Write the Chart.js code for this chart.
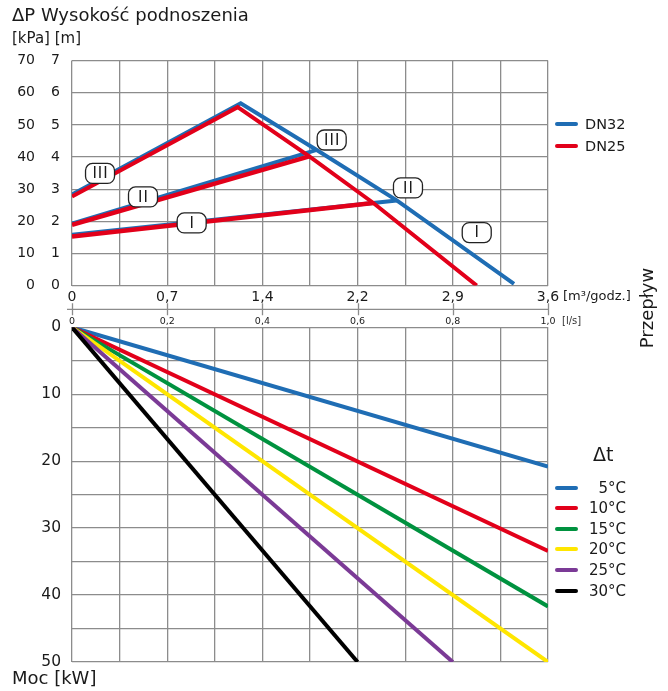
<!DOCTYPE html>
<html lang="pl">
<head>
<meta charset="utf-8">
<title>Wysokość podnoszenia i moc</title>
<script src="https://cdn.jsdelivr.net/npm/chart.js@4.4.1/dist/chart.umd.min.js"></script>
<style>
  html, body { margin: 0; padding: 0; background: #fff; }
  #wrap { position: relative; width: 668px; height: 691px; overflow: hidden;
          font-family: 'DejaVu Sans', sans-serif; color: #1a1a1a; }
  #wrap canvas { position: absolute; left: 0; }
  #headCanvas { top: 0; }
  #powerCanvas { top: 300px; }
  .t { position: absolute; white-space: nowrap; line-height: 1; }
  .legend-row { position: absolute; left: 555px; display: flex; align-items: center; height: 16px; }
  .swatch { width: 23px; height: 4px; border-radius: 2px; }
  .dt-label { width: 48px; text-align: right; font-size: 15px; line-height: 16px; }
  .dn-label { margin-left: 7px; font-size: 14.5px; line-height: 16px; }
</style>
</head>
<body>
<div id="wrap">
  <canvas id="headCanvas" width="668" height="306"></canvas>
  <canvas id="powerCanvas" width="668" height="391"></canvas>

  <div class="t" style="left:12px; top:5.5px; font-size:18px;">ΔP Wysokość podnoszenia</div>
  <div class="t" style="left:12px; top:30.5px; font-size:15px;">[kPa] [m]</div>
  <div class="t" style="left:563px; top:289px; font-size:13px;">[m³/godz.]</div>
  <div class="t" style="left:562px; top:316px; font-size:10px; color:#333;">[l/s]</div>
  <div class="t" style="left:647px; top:308px; font-size:18px; transform: translate(-50%,-50%) rotate(-90deg);">Przepływ</div>
  <div class="t" style="left:12px; top:669px; font-size:18px;">Moc [kW]</div>
  <div class="t" style="left:593px; top:444.5px; font-size:19px;">Δt</div>
  <div id="dnLegend"></div>
  <div id="dtLegend"></div>
</div>

<script>
// ---- Axis tick labels (m³/h and l/s share the same grid columns) ----
const flowTickLabels = ['0', '0,7', '1,4', '2,2', '2,9', '3,6'];
const lpsTickLabels  = ['0', '0,2', '0,4', '0,6', '0,8', '1,0'];
const kpaTickLabels  = ['0', '10', '20', '30', '40', '50', '60', '70'];
const mTickLabels    = ['0', '1', '2', '3', '4', '5', '6', '7'];
const kwTickLabels   = ['0', '10', '20', '30', '40', '50'];

// ---- Pump curves: flow [m³/h] against head [kPa] ----
// DN32
const dn32FlowIII = [0, 1.276, 1.851, 2.456, 3.343];
const dn32HeadIII = [28.3, 56.7, 42.2, 26.5, 0.5];
const dn32FlowII  = [0, 1.851];
const dn32HeadII  = [19.3, 42.2];
const dn32FlowI   = [0, 2.456];
const dn32HeadI   = [15.8, 26.5];
// DN25
const dn25FlowIII = [0, 1.253, 1.795, 2.279, 3.061];
const dn25HeadIII = [27.7, 55.5, 40.2, 25.7, 0];
const dn25FlowII  = [0, 1.795];
const dn25HeadII  = [18.9, 40.2];
const dn25FlowI   = [0, 2.279];
const dn25HeadI   = [15.3, 25.7];

// ---- Heating power: flow [l/s] against power [kW] per temperature difference ----
const deltaTLabels = ['5°C', '10°C', '15°C', '20°C', '25°C', '30°C'];
const lpsDt5  = [0, 1.0];  const kwDt5  = [0, 20.8];
const lpsDt10 = [0, 1.0];  const kwDt10 = [0, 33.4];
const lpsDt15 = [0, 1.0];  const kwDt15 = [0, 41.7];
const lpsDt20 = [0, 1.0];  const kwDt20 = [0, 50];
const lpsDt25 = [0, 0.8];  const kwDt25 = [0, 50];
const lpsDt30 = [0, 0.6];  const kwDt30 = [0, 50];

// ---- Styling ----
const FONT = "'DejaVu Sans', sans-serif";
const TEXT = '#1a1a1a';
const GRID = '#8c8c8c';
const BLUE = '#1f6db4';
const RED = '#e2001a';
const dtColors = ['#1f6db4', '#e2001a', '#00923f', '#ffe600', '#7b3a96', '#000000'];

const pts = (xs, ys) => xs.map((x, i) => ({ x, y: ys[i] }));

// speed-step tags placed on the pump curves (value coordinates)
const speedTags = [
  { text: 'III', q: 0.212, p: 34.9 },
  { text: 'II',  q: 0.537, p: 27.6 },
  { text: 'I',   q: 0.905, p: 19.5 },
  { text: 'III', q: 1.964, p: 45.3 },
  { text: 'II',  q: 2.541, p: 30.4 },
  { text: 'I',   q: 3.061, p: 16.5 }
];

const speedTagPlugin = {
  id: 'speedTags',
  afterDatasetsDraw(chart) {
    const { ctx } = chart;
    const xs = chart.scales.x, ys = chart.scales.yKpa;
    ctx.save();
    ctx.font = `15px ${FONT}`;
    ctx.textAlign = 'center';
    ctx.textBaseline = 'middle';
    if ('letterSpacing' in ctx) ctx.letterSpacing = '1px';
    speedTags.forEach(t => {
      const cx = xs.getPixelForValue(t.q);
      const cy = ys.getPixelForValue(t.p);
      const w = 29, h = 20;
      ctx.beginPath();
      ctx.roundRect(cx - w / 2, cy - h / 2, w, h, 7);
      ctx.fillStyle = '#fff';
      ctx.fill();
      ctx.lineWidth = 1.3;
      ctx.strokeStyle = '#222';
      ctx.stroke();
      ctx.fillStyle = TEXT;
      ctx.fillText(t.text, cx + 0.5, cy + 1);
    });
    ctx.restore();
  }
};

// separator line between the two charts, with ticks at the labelled l/s values
const flowRulerPlugin = {
  id: 'flowRuler',
  afterDraw(chart) {
    const { ctx, chartArea } = chart;
    const xs = chart.scales.x;
    const y = chartArea.top - 18;
    ctx.save();
    ctx.strokeStyle = GRID;
    ctx.lineWidth = 1.3;
    ctx.beginPath();
    ctx.moveTo(67, y);
    ctx.lineTo(chartArea.right, y);
    xs.ticks.forEach((tk, i) => {
      if (i % 2) return;
      const px = Math.round(xs.getPixelForValue(tk.value)) + 0.5;
      ctx.moveTo(px, y - 6);
      ctx.lineTo(px, y + 6);
    });
    ctx.stroke();
    ctx.restore();
  }
};

const gridOpts = { color: GRID, lineWidth: 1.3, drawTicks: false };
const evenTicks = (n, step) => Array.from({ length: n + 1 }, (_, i) => ({ value: i * step }));

const line = (label, data, color, width, order, yAxisID) => ({
  label, data, borderColor: color, backgroundColor: color,
  borderWidth: width, pointRadius: 0, tension: 0,
  borderJoinStyle: 'miter', borderCapStyle: 'butt', order, yAxisID
});

// ---------- Pump head chart ----------
new Chart(document.getElementById('headCanvas'), {
  type: 'line',
  data: {
    datasets: [
      line('DN32 III', pts(dn32FlowIII, dn32HeadIII), BLUE, 4, 2, 'yKpa'),
      line('DN32 II',  pts(dn32FlowII,  dn32HeadII),  BLUE, 4, 2, 'yKpa'),
      line('DN32 I',   pts(dn32FlowI,   dn32HeadI),   BLUE, 4, 2, 'yKpa'),
      line('DN25 III', pts(dn25FlowIII, dn25HeadIII), RED, 4, 1, 'yKpa'),
      line('DN25 II',  pts(dn25FlowII,  dn25HeadII),  RED, 4.5, 1, 'yKpa'),
      line('DN25 I',   pts(dn25FlowI,   dn25HeadI),   RED, 4.5, 1, 'yKpa')
    ]
  },
  options: {
    responsive: false,
    animation: false,
    events: [],
    layout: { padding: { top: 60.6, right: 120, bottom: 0, left: 0 } },
    plugins: { legend: { display: false }, tooltip: { enabled: false } },
    scales: {
      x: {
        type: 'linear', position: 'bottom', min: 0, max: 3.6,
        grid: gridOpts, border: { display: false },
        afterBuildTicks: s => { s.ticks = evenTicks(10, 0.36); },
        afterFit: s => { s.height = 20; },
        ticks: {
          autoSkip: false, maxRotation: 0, padding: 3, color: TEXT,
          font: { family: FONT, size: 14 },
          callback: (v, i) => (i % 2 ? '' : flowTickLabels[i / 2])
        }
      },
      yKpa: {
        type: 'linear', position: 'left', weight: 2, min: 0, max: 70,
        grid: gridOpts, border: { display: false },
        afterBuildTicks: s => { s.ticks = evenTicks(7, 10); },
        afterFit: s => { s.width = 38; },
        ticks: {
          padding: 3, color: TEXT, font: { family: FONT, size: 14 },
          callback: (v, i) => kpaTickLabels[i]
        }
      },
      yM: {
        type: 'linear', position: 'left', weight: 1, min: 0, max: 7,
        grid: { display: false, drawTicks: false }, border: { display: false },
        afterBuildTicks: s => { s.ticks = evenTicks(7, 1); },
        afterFit: s => { s.width = 34; },
        ticks: {
          padding: 12, color: TEXT, font: { family: FONT, size: 14 },
          callback: (v, i) => mTickLabels[i]
        }
      }
    }
  },
  plugins: [speedTagPlugin]
});

// ---------- Heating power chart ----------
const powerSeries = [
  [lpsDt5, kwDt5], [lpsDt10, kwDt10], [lpsDt15, kwDt15],
  [lpsDt20, kwDt20], [lpsDt25, kwDt25], [lpsDt30, kwDt30]
];

new Chart(document.getElementById('powerCanvas'), {
  type: 'line',
  data: {
    datasets: powerSeries.map(([q, p], i) =>
      line(deltaTLabels[i], pts(q, p), dtColors[i], 4, powerSeries.length - i, 'y'))
  },
  options: {
    responsive: false,
    animation: false,
    events: [],
    layout: { padding: { top: 0, right: 120, bottom: 29, left: 0 } },
    plugins: { legend: { display: false }, tooltip: { enabled: false } },
    scales: {
      x: {
        type: 'linear', position: 'top', min: 0, max: 1,
        grid: gridOpts, border: { display: false },
        afterBuildTicks: s => { s.ticks = evenTicks(10, 0.1); },
        afterFit: s => { s.height = 27.3; },
        ticks: {
          autoSkip: false, maxRotation: 0, padding: 0, color: TEXT,
          font: { family: FONT, size: 9.5 },
          callback: (v, i) => (i % 2 ? '' : lpsTickLabels[i / 2])
        }
      },
      y: {
        type: 'linear', position: 'left', reverse: true, min: 0, max: 50,
        grid: gridOpts, border: { display: false },
        afterBuildTicks: s => { s.ticks = evenTicks(10, 5); },
        afterFit: s => { s.width = 72; },
        ticks: {
          autoSkip: false, padding: 11, color: TEXT, font: { family: FONT, size: 15.5 },
          callback: (v, i) => (i % 2 ? '' : kwTickLabels[i / 2])
        }
      }
    }
  },
  plugins: [flowRulerPlugin]
});

// ---------- Legends ----------
const dnLegend = document.getElementById('dnLegend');
[['DN32', BLUE, 124.3], ['DN25', RED, 146]].forEach(([name, col, cy]) => {
  const row = document.createElement('div');
  row.className = 'legend-row';
  row.style.top = (cy - 8) + 'px';
  row.innerHTML = `<div class="swatch" style="background:${col}"></div><div class="dn-label">${name}</div>`;
  dnLegend.appendChild(row);
});

const dtLegend = document.getElementById('dtLegend');
const dtRowCenters = [487.7, 508.3, 529, 549.3, 570.3, 591.3];
deltaTLabels.forEach((name, i) => {
  const row = document.createElement('div');
  row.className = 'legend-row';
  row.style.top = (dtRowCenters[i] - 8) + 'px';
  row.innerHTML = `<div class="swatch" style="background:${dtColors[i]}"></div><div class="dt-label">${name}</div>`;
  dtLegend.appendChild(row);
});
</script>
</body>
</html>
